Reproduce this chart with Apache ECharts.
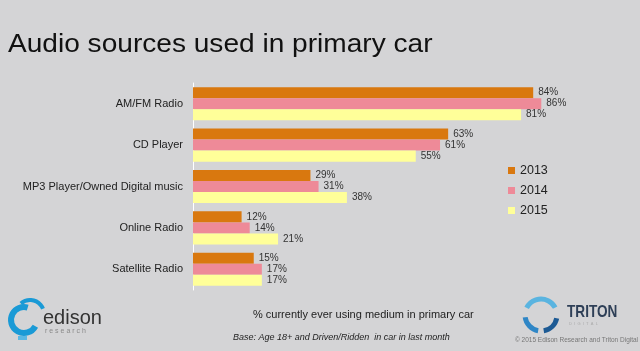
<!DOCTYPE html>
<html>
<head>
<meta charset="utf-8">
<script src="https://cdn.jsdelivr.net/npm/echarts@6/dist/echarts.min.js"></script>
<style>
  html, body { margin: 0; padding: 0; background: #d4d4d6; }
  #chart { width: 640px; height: 351px; }
</style>
</head>
<body>
<div id="chart"></div>
<script>
// 数据
const categories = ['AM/FM Radio', 'CD Player', 'MP3 Player/Owned Digital music', 'Online Radio', 'Satellite Radio'];
const years = ['2013', '2014', '2015'];
const values2013 = [84, 63, 29, 12, 15];
const values2014 = [86, 61, 31, 14, 17];
const values2015 = [81, 55, 38, 21, 17];
const colors = ['#d9780f', '#ee8a98', '#ffff99'];

const font = '"Liberation Sans", Arial, sans-serif';

function makeSeries(name, data, color) {
    return {
        name: name,
        type: 'bar',
        data: data,
        barGap: '0%',
        barCategoryGap: '20%',
        itemStyle: { color: color },
        label: {
            show: true,
            position: 'right',
            distance: 5,
            formatter: '{c}%',
            fontSize: 10,
            fontFamily: font,
            color: '#333'
        }
    };
}

const chart = echarts.init(document.getElementById('chart'));
chart.setOption({
    backgroundColor: '#d4d4d6',
    animation: false,
    grid: { left: 193, right: 42, top: 83, bottom: 61 },
    legend: {
        orient: 'vertical',
        left: 503,
        top: 159,
        itemWidth: 7,
        itemHeight: 7,
        itemGap: 7,
        icon: 'rect',
        textStyle: { fontSize: 12.5, fontFamily: font, color: '#222' },
        data: years
    },
    xAxis: {
        type: 'value',
        min: 0,
        max: 100,
        show: false
    },
    yAxis: {
        type: 'category',
        inverse: true,
        data: categories,
        axisTick: { show: false },
        axisLine: { lineStyle: { color: '#ffffff', width: 1 } },
        axisLabel: { fontSize: 11, fontFamily: font, color: '#222', margin: 10 }
    },
    series: [
        makeSeries(years[0], values2013, colors[0]),
        makeSeries(years[1], values2014, colors[1]),
        makeSeries(years[2], values2015, colors[2])
    ],
    graphic: [
        {
            type: 'text', left: 8, top: 32, scaleX: 1.08,
            style: { text: 'Audio sources used in primary car', fontSize: 26, fontFamily: font, fill: '#111' }
        },
        {
            type: 'text', left: 253, top: 309,
            style: { text: '% currently ever using medium in primary car', fontSize: 11, fontFamily: font, fill: '#222' }
        },
        {
            type: 'text', left: 233, top: 333,
            style: { text: 'Base: Age 18+ and Driven/Ridden  in car in last month', fontSize: 9, fontStyle: 'italic', fontFamily: font, fill: '#222' }
        },
        {
            type: 'text', left: 515, top: 337,
            style: { text: '© 2015 Edison Research and Triton Digital', fontSize: 6.5, fontFamily: font, fill: '#777' }
        },
        // edison 标志
        {
            type: 'arc', shape: { cx: 24, cy: 320, r: 13, startAngle: 0.5, endAngle: 5.0 },
            style: { stroke: '#1a9ad6', lineWidth: 6, fill: null }
        },
        {
            type: 'arc', shape: { cx: 30, cy: 314, r: 14, startAngle: 4.0, endAngle: 5.9 },
            style: { stroke: '#1a9ad6', lineWidth: 4, fill: null }
        },
        {
            type: 'rect', shape: { x: 18, y: 336, width: 9, height: 4 },
            style: { fill: '#5ab8e4' }
        },
        {
            type: 'text', left: 43, top: 308,
            style: { text: 'edison', fontSize: 20, fontFamily: font, fill: '#333' }
        },
        {
            type: 'text', left: 45, top: 328,
            style: { text: 'r e s e a r c h', fontSize: 7, fontFamily: font, fill: '#8a8a8a' }
        },
        // triton 标志
        {
            type: 'arc', shape: { cx: 541, cy: 315, r: 16, startAngle: 3.6, endAngle: 5.8 },
            style: { stroke: '#5ab4e0', lineWidth: 5, fill: null }
        },
        {
            type: 'arc', shape: { cx: 541, cy: 315, r: 16, startAngle: 0.2, endAngle: 1.4 },
            style: { stroke: '#1d5a94', lineWidth: 5, fill: null }
        },
        {
            type: 'arc', shape: { cx: 541, cy: 315, r: 16, startAngle: 1.75, endAngle: 3.0 },
            style: { stroke: '#2f86c6', lineWidth: 5, fill: null }
        },
        {
            type: 'text', left: 567, top: 304, scaleX: 0.8,
            style: { text: 'TRITON', fontSize: 17, fontWeight: 'bold', fontFamily: font, fill: '#2e3f57' }
        },
        {
            type: 'text', left: 569, top: 322,
            style: { text: 'D  I  G  I  T  A  L', fontSize: 4, fontFamily: font, fill: '#aaa' }
        }
    ]
});
</script>
</body>
</html>
